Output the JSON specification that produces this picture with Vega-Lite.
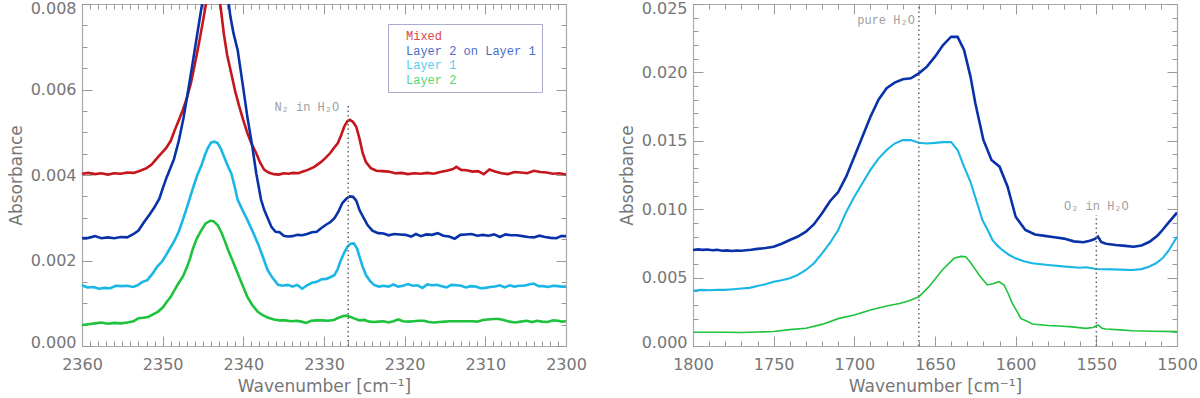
{
  "$schema": "https://vega.github.io/schema/vega-lite/v6.json",
  "background": "white",
  "padding": {"left": 7, "top": 0, "right": 0, "bottom": 2},
  "spacing": 31,
  "config": {
    "view": {"stroke": null},
    "axis": {
      "grid": false,
      "domainColor": "#aaaaaa",
      "domainWidth": 1.2,
      "tickColor": "#999999",
      "tickWidth": 1,
      "labelFont": "DejaVu Sans",
      "labelFontSize": 16,
      "labelColor": "#767676",
      "labelFlush": false,
      "labelOverlap": false,
      "titleFont": "DejaVu Sans",
      "titleFontSize": 17,
      "titleFontWeight": "normal",
      "titleColor": "#767676"
    }
  },
  "resolve": {"scale": {"color": "independent", "strokeWidth": "independent"}},
  "datasets": {
    "left": [
      {"s":"Mixed","x":2360,"y":0.00403},{"s":"Mixed","x":2359.2,"y":0.00405},{"s":"Mixed","x":2358.4,"y":0.00402},{"s":"Mixed","x":2357.6,"y":0.00404},{"s":"Mixed","x":2356.8,"y":0.00401},{"s":"Mixed","x":2356,"y":0.00404},{"s":"Mixed","x":2355.2,"y":0.00403},{"s":"Mixed","x":2354.4,"y":0.00406},{"s":"Mixed","x":2353.6,"y":0.00405},{"s":"Mixed","x":2352.8,"y":0.0041},{"s":"Mixed","x":2352,"y":0.00416},{"s":"Mixed","x":2351.4,"y":0.00424},{"s":"Mixed","x":2350.8,"y":0.00437},{"s":"Mixed","x":2350.2,"y":0.0045},{"s":"Mixed","x":2349.6,"y":0.00462},{"s":"Mixed","x":2349,"y":0.0048},{"s":"Mixed","x":2348.5,"y":0.00505},{"s":"Mixed","x":2348,"y":0.00528},{"s":"Mixed","x":2347.5,"y":0.00552},{"s":"Mixed","x":2347,"y":0.0058},{"s":"Mixed","x":2346.5,"y":0.00615},{"s":"Mixed","x":2346,"y":0.0066},{"s":"Mixed","x":2345.5,"y":0.00708},{"s":"Mixed","x":2345,"y":0.0076},{"s":"Mixed","x":2344.5,"y":0.00815},{"s":"Mixed","x":2344,"y":0.0086},{"s":"Mixed","x":2343.6,"y":0.0087},{"s":"Mixed","x":2343.2,"y":0.00845},{"s":"Mixed","x":2342.8,"y":0.0079},{"s":"Mixed","x":2342.4,"y":0.00728},{"s":"Mixed","x":2342,"y":0.0068},{"s":"Mixed","x":2341.5,"y":0.00638},{"s":"Mixed","x":2341,"y":0.00595},{"s":"Mixed","x":2340.5,"y":0.0056},{"s":"Mixed","x":2340,"y":0.00528},{"s":"Mixed","x":2339.5,"y":0.00498},{"s":"Mixed","x":2339,"y":0.00474},{"s":"Mixed","x":2338.4,"y":0.00451},{"s":"Mixed","x":2337.9,"y":0.00428},{"s":"Mixed","x":2337.4,"y":0.00412},{"s":"Mixed","x":2336.8,"y":0.00405},{"s":"Mixed","x":2336.2,"y":0.00402},{"s":"Mixed","x":2335.6,"y":0.00401},{"s":"Mixed","x":2335,"y":0.00404},{"s":"Mixed","x":2334.4,"y":0.00403},{"s":"Mixed","x":2333.8,"y":0.00405},{"s":"Mixed","x":2333.2,"y":0.00404},{"s":"Mixed","x":2332.6,"y":0.00408},{"s":"Mixed","x":2332,"y":0.00412},{"s":"Mixed","x":2331.2,"y":0.00419},{"s":"Mixed","x":2330.4,"y":0.0043},{"s":"Mixed","x":2329.8,"y":0.0044},{"s":"Mixed","x":2329.2,"y":0.00452},{"s":"Mixed","x":2328.7,"y":0.00465},{"s":"Mixed","x":2328.3,"y":0.00474},{"s":"Mixed","x":2327.9,"y":0.00492},{"s":"Mixed","x":2327.5,"y":0.00513},{"s":"Mixed","x":2327.1,"y":0.00526},{"s":"Mixed","x":2326.8,"y":0.00529},{"s":"Mixed","x":2326.4,"y":0.00524},{"s":"Mixed","x":2326,"y":0.00513},{"s":"Mixed","x":2325.6,"y":0.00485},{"s":"Mixed","x":2325.2,"y":0.00451},{"s":"Mixed","x":2324.8,"y":0.0043},{"s":"Mixed","x":2324.2,"y":0.00416},{"s":"Mixed","x":2323.5,"y":0.0041},{"s":"Mixed","x":2322.8,"y":0.00409},{"s":"Mixed","x":2322,"y":0.00408},{"s":"Mixed","x":2321.2,"y":0.00404},{"s":"Mixed","x":2320.4,"y":0.00405},{"s":"Mixed","x":2319.6,"y":0.00402},{"s":"Mixed","x":2318.8,"y":0.00404},{"s":"Mixed","x":2318,"y":0.00403},{"s":"Mixed","x":2317.2,"y":0.00405},{"s":"Mixed","x":2316.4,"y":0.00403},{"s":"Mixed","x":2315.6,"y":0.00407},{"s":"Mixed","x":2314.8,"y":0.0041},{"s":"Mixed","x":2314,"y":0.00414},{"s":"Mixed","x":2313.6,"y":0.00419},{"s":"Mixed","x":2313,"y":0.00412},{"s":"Mixed","x":2312.3,"y":0.00411},{"s":"Mixed","x":2311.6,"y":0.00408},{"s":"Mixed","x":2310.9,"y":0.00409},{"s":"Mixed","x":2310.2,"y":0.00402},{"s":"Mixed","x":2309.5,"y":0.00413},{"s":"Mixed","x":2308.8,"y":0.00408},{"s":"Mixed","x":2308,"y":0.00404},{"s":"Mixed","x":2307.2,"y":0.00402},{"s":"Mixed","x":2306.4,"y":0.00407},{"s":"Mixed","x":2305.6,"y":0.00406},{"s":"Mixed","x":2304.8,"y":0.00404},{"s":"Mixed","x":2304,"y":0.0041},{"s":"Mixed","x":2303.2,"y":0.00407},{"s":"Mixed","x":2302.4,"y":0.00406},{"s":"Mixed","x":2301.6,"y":0.00403},{"s":"Mixed","x":2300.8,"y":0.00404},{"s":"Mixed","x":2300,"y":0.00401},
      {"s":"Layer 2 on Layer 1","x":2360,"y":0.00252},{"s":"Layer 2 on Layer 1","x":2359.2,"y":0.00253},{"s":"Layer 2 on Layer 1","x":2358.4,"y":0.00257},{"s":"Layer 2 on Layer 1","x":2357.6,"y":0.00252},{"s":"Layer 2 on Layer 1","x":2356.8,"y":0.00254},{"s":"Layer 2 on Layer 1","x":2356,"y":0.00252},{"s":"Layer 2 on Layer 1","x":2355.2,"y":0.00255},{"s":"Layer 2 on Layer 1","x":2354.4,"y":0.00254},{"s":"Layer 2 on Layer 1","x":2353.6,"y":0.00262},{"s":"Layer 2 on Layer 1","x":2353,"y":0.0027},{"s":"Layer 2 on Layer 1","x":2352.3,"y":0.0029},{"s":"Layer 2 on Layer 1","x":2351.6,"y":0.00308},{"s":"Layer 2 on Layer 1","x":2351,"y":0.00325},{"s":"Layer 2 on Layer 1","x":2350.4,"y":0.00345},{"s":"Layer 2 on Layer 1","x":2350,"y":0.00368},{"s":"Layer 2 on Layer 1","x":2349.5,"y":0.00395},{"s":"Layer 2 on Layer 1","x":2349,"y":0.00418},{"s":"Layer 2 on Layer 1","x":2348.6,"y":0.00437},{"s":"Layer 2 on Layer 1","x":2348,"y":0.0048},{"s":"Layer 2 on Layer 1","x":2347.4,"y":0.00535},{"s":"Layer 2 on Layer 1","x":2346.9,"y":0.00591},{"s":"Layer 2 on Layer 1","x":2346.3,"y":0.0066},{"s":"Layer 2 on Layer 1","x":2345.7,"y":0.00731},{"s":"Layer 2 on Layer 1","x":2345.2,"y":0.0079},{"s":"Layer 2 on Layer 1","x":2344.7,"y":0.0085},{"s":"Layer 2 on Layer 1","x":2344.2,"y":0.0092},{"s":"Layer 2 on Layer 1","x":2343.6,"y":0.0098},{"s":"Layer 2 on Layer 1","x":2343,"y":0.01},{"s":"Layer 2 on Layer 1","x":2342.5,"y":0.0096},{"s":"Layer 2 on Layer 1","x":2342,"y":0.0083},{"s":"Layer 2 on Layer 1","x":2341.6,"y":0.0077},{"s":"Layer 2 on Layer 1","x":2341.2,"y":0.0073},{"s":"Layer 2 on Layer 1","x":2340.7,"y":0.00692},{"s":"Layer 2 on Layer 1","x":2340.1,"y":0.00615},{"s":"Layer 2 on Layer 1","x":2339.5,"y":0.00536},{"s":"Layer 2 on Layer 1","x":2338.9,"y":0.00468},{"s":"Layer 2 on Layer 1","x":2338.4,"y":0.00404},{"s":"Layer 2 on Layer 1","x":2337.8,"y":0.00342},{"s":"Layer 2 on Layer 1","x":2337.4,"y":0.00318},{"s":"Layer 2 on Layer 1","x":2337,"y":0.003},{"s":"Layer 2 on Layer 1","x":2336.5,"y":0.00278},{"s":"Layer 2 on Layer 1","x":2336,"y":0.00267},{"s":"Layer 2 on Layer 1","x":2335.5,"y":0.00266},{"s":"Layer 2 on Layer 1","x":2335,"y":0.00258},{"s":"Layer 2 on Layer 1","x":2334.5,"y":0.00256},{"s":"Layer 2 on Layer 1","x":2333.9,"y":0.00257},{"s":"Layer 2 on Layer 1","x":2333.3,"y":0.0026},{"s":"Layer 2 on Layer 1","x":2332.7,"y":0.00259},{"s":"Layer 2 on Layer 1","x":2332.1,"y":0.00262},{"s":"Layer 2 on Layer 1","x":2331.5,"y":0.00266},{"s":"Layer 2 on Layer 1","x":2330.9,"y":0.00267},{"s":"Layer 2 on Layer 1","x":2330.4,"y":0.00275},{"s":"Layer 2 on Layer 1","x":2329.8,"y":0.00283},{"s":"Layer 2 on Layer 1","x":2329.2,"y":0.0029},{"s":"Layer 2 on Layer 1","x":2328.7,"y":0.00299},{"s":"Layer 2 on Layer 1","x":2328.2,"y":0.00315},{"s":"Layer 2 on Layer 1","x":2327.7,"y":0.00335},{"s":"Layer 2 on Layer 1","x":2327.2,"y":0.00345},{"s":"Layer 2 on Layer 1","x":2326.8,"y":0.0035},{"s":"Layer 2 on Layer 1","x":2326.4,"y":0.00349},{"s":"Layer 2 on Layer 1","x":2326,"y":0.0034},{"s":"Layer 2 on Layer 1","x":2325.6,"y":0.00318},{"s":"Layer 2 on Layer 1","x":2325.1,"y":0.003},{"s":"Layer 2 on Layer 1","x":2324.6,"y":0.00283},{"s":"Layer 2 on Layer 1","x":2324,"y":0.0027},{"s":"Layer 2 on Layer 1","x":2323.3,"y":0.00264},{"s":"Layer 2 on Layer 1","x":2322.6,"y":0.00263},{"s":"Layer 2 on Layer 1","x":2322,"y":0.00259},{"s":"Layer 2 on Layer 1","x":2321.3,"y":0.00262},{"s":"Layer 2 on Layer 1","x":2320.6,"y":0.00261},{"s":"Layer 2 on Layer 1","x":2319.9,"y":0.0026},{"s":"Layer 2 on Layer 1","x":2319.2,"y":0.00256},{"s":"Layer 2 on Layer 1","x":2318.6,"y":0.00262},{"s":"Layer 2 on Layer 1","x":2318,"y":0.00257},{"s":"Layer 2 on Layer 1","x":2317.3,"y":0.00261},{"s":"Layer 2 on Layer 1","x":2316.6,"y":0.0026},{"s":"Layer 2 on Layer 1","x":2315.9,"y":0.00264},{"s":"Layer 2 on Layer 1","x":2315.2,"y":0.00258},{"s":"Layer 2 on Layer 1","x":2314.5,"y":0.00256},{"s":"Layer 2 on Layer 1","x":2313.8,"y":0.00251},{"s":"Layer 2 on Layer 1","x":2313.1,"y":0.0026},{"s":"Layer 2 on Layer 1","x":2312.4,"y":0.00261},{"s":"Layer 2 on Layer 1","x":2311.7,"y":0.00262},{"s":"Layer 2 on Layer 1","x":2311,"y":0.00258},{"s":"Layer 2 on Layer 1","x":2310.3,"y":0.0026},{"s":"Layer 2 on Layer 1","x":2309.6,"y":0.00258},{"s":"Layer 2 on Layer 1","x":2308.9,"y":0.00261},{"s":"Layer 2 on Layer 1","x":2308.2,"y":0.00255},{"s":"Layer 2 on Layer 1","x":2307.5,"y":0.00261},{"s":"Layer 2 on Layer 1","x":2306.8,"y":0.00259},{"s":"Layer 2 on Layer 1","x":2306.1,"y":0.00259},{"s":"Layer 2 on Layer 1","x":2305.4,"y":0.00257},{"s":"Layer 2 on Layer 1","x":2304.7,"y":0.00255},{"s":"Layer 2 on Layer 1","x":2304,"y":0.00254},{"s":"Layer 2 on Layer 1","x":2303.3,"y":0.00258},{"s":"Layer 2 on Layer 1","x":2302.6,"y":0.00255},{"s":"Layer 2 on Layer 1","x":2301.9,"y":0.00253},{"s":"Layer 2 on Layer 1","x":2301.2,"y":0.00252},{"s":"Layer 2 on Layer 1","x":2300.6,"y":0.00257},{"s":"Layer 2 on Layer 1","x":2300,"y":0.00257},
      {"s":"Layer 1","x":2360,"y":0.00142},{"s":"Layer 1","x":2359.3,"y":0.00137},{"s":"Layer 1","x":2358.6,"y":0.00138},{"s":"Layer 1","x":2357.9,"y":0.00134},{"s":"Layer 1","x":2357.2,"y":0.00136},{"s":"Layer 1","x":2356.5,"y":0.00135},{"s":"Layer 1","x":2355.8,"y":0.00141},{"s":"Layer 1","x":2355.1,"y":0.0014},{"s":"Layer 1","x":2354.4,"y":0.00141},{"s":"Layer 1","x":2353.7,"y":0.00138},{"s":"Layer 1","x":2353.1,"y":0.00142},{"s":"Layer 1","x":2352.5,"y":0.0015},{"s":"Layer 1","x":2351.9,"y":0.00154},{"s":"Layer 1","x":2351.3,"y":0.00168},{"s":"Layer 1","x":2350.7,"y":0.00185},{"s":"Layer 1","x":2350.1,"y":0.00197},{"s":"Layer 1","x":2349.6,"y":0.00212},{"s":"Layer 1","x":2349.1,"y":0.00228},{"s":"Layer 1","x":2348.6,"y":0.00244},{"s":"Layer 1","x":2348,"y":0.00268},{"s":"Layer 1","x":2347.5,"y":0.00295},{"s":"Layer 1","x":2347.1,"y":0.00318},{"s":"Layer 1","x":2346.7,"y":0.00342},{"s":"Layer 1","x":2346.2,"y":0.00372},{"s":"Layer 1","x":2345.7,"y":0.004},{"s":"Layer 1","x":2345.2,"y":0.00422},{"s":"Layer 1","x":2344.8,"y":0.00445},{"s":"Layer 1","x":2344.4,"y":0.00463},{"s":"Layer 1","x":2344,"y":0.00476},{"s":"Layer 1","x":2343.6,"y":0.00478},{"s":"Layer 1","x":2343.2,"y":0.00475},{"s":"Layer 1","x":2342.8,"y":0.00462},{"s":"Layer 1","x":2342.4,"y":0.00443},{"s":"Layer 1","x":2341.9,"y":0.0042},{"s":"Layer 1","x":2341.5,"y":0.00404},{"s":"Layer 1","x":2341.1,"y":0.00375},{"s":"Layer 1","x":2340.7,"y":0.00342},{"s":"Layer 1","x":2340.1,"y":0.00318},{"s":"Layer 1","x":2339.5,"y":0.00295},{"s":"Layer 1","x":2338.8,"y":0.00266},{"s":"Layer 1","x":2338.2,"y":0.0024},{"s":"Layer 1","x":2337.6,"y":0.0021},{"s":"Layer 1","x":2337,"y":0.00178},{"s":"Layer 1","x":2336.4,"y":0.0016},{"s":"Layer 1","x":2335.7,"y":0.00143},{"s":"Layer 1","x":2335.1,"y":0.00141},{"s":"Layer 1","x":2334.5,"y":0.00143},{"s":"Layer 1","x":2333.9,"y":0.00139},{"s":"Layer 1","x":2333.3,"y":0.00143},{"s":"Layer 1","x":2332.7,"y":0.00134},{"s":"Layer 1","x":2332.1,"y":0.00142},{"s":"Layer 1","x":2331.5,"y":0.00148},{"s":"Layer 1","x":2330.9,"y":0.0015},{"s":"Layer 1","x":2330.3,"y":0.00156},{"s":"Layer 1","x":2329.7,"y":0.00157},{"s":"Layer 1","x":2329.1,"y":0.00162},{"s":"Layer 1","x":2328.7,"y":0.00166},{"s":"Layer 1","x":2328.3,"y":0.0018},{"s":"Layer 1","x":2327.9,"y":0.00201},{"s":"Layer 1","x":2327.5,"y":0.00218},{"s":"Layer 1","x":2327.1,"y":0.00232},{"s":"Layer 1","x":2326.7,"y":0.00239},{"s":"Layer 1","x":2326.3,"y":0.0024},{"s":"Layer 1","x":2325.9,"y":0.00228},{"s":"Layer 1","x":2325.6,"y":0.00209},{"s":"Layer 1","x":2325.2,"y":0.00185},{"s":"Layer 1","x":2324.8,"y":0.00166},{"s":"Layer 1","x":2324.3,"y":0.00152},{"s":"Layer 1","x":2323.8,"y":0.00143},{"s":"Layer 1","x":2323.2,"y":0.00139},{"s":"Layer 1","x":2322.6,"y":0.00141},{"s":"Layer 1","x":2322,"y":0.00139},{"s":"Layer 1","x":2321.4,"y":0.00144},{"s":"Layer 1","x":2320.8,"y":0.00139},{"s":"Layer 1","x":2320.2,"y":0.00141},{"s":"Layer 1","x":2319.6,"y":0.00145},{"s":"Layer 1","x":2319,"y":0.00141},{"s":"Layer 1","x":2318.4,"y":0.00142},{"s":"Layer 1","x":2317.8,"y":0.00136},{"s":"Layer 1","x":2317.2,"y":0.00144},{"s":"Layer 1","x":2316.6,"y":0.00142},{"s":"Layer 1","x":2316,"y":0.00143},{"s":"Layer 1","x":2315.4,"y":0.0014},{"s":"Layer 1","x":2314.8,"y":0.00137},{"s":"Layer 1","x":2314.2,"y":0.00143},{"s":"Layer 1","x":2313.6,"y":0.00142},{"s":"Layer 1","x":2313,"y":0.00141},{"s":"Layer 1","x":2312.4,"y":0.00137},{"s":"Layer 1","x":2311.8,"y":0.0014},{"s":"Layer 1","x":2311.2,"y":0.00139},{"s":"Layer 1","x":2310.6,"y":0.00135},{"s":"Layer 1","x":2310,"y":0.00136},{"s":"Layer 1","x":2309.4,"y":0.00138},{"s":"Layer 1","x":2308.8,"y":0.00139},{"s":"Layer 1","x":2308.2,"y":0.00142},{"s":"Layer 1","x":2307.6,"y":0.00137},{"s":"Layer 1","x":2307,"y":0.00142},{"s":"Layer 1","x":2306.4,"y":0.00139},{"s":"Layer 1","x":2305.8,"y":0.00141},{"s":"Layer 1","x":2305.2,"y":0.00141},{"s":"Layer 1","x":2304.6,"y":0.00144},{"s":"Layer 1","x":2304,"y":0.00146},{"s":"Layer 1","x":2303.4,"y":0.0014},{"s":"Layer 1","x":2302.8,"y":0.0014},{"s":"Layer 1","x":2302.2,"y":0.00138},{"s":"Layer 1","x":2301.6,"y":0.00141},{"s":"Layer 1","x":2301,"y":0.0014},{"s":"Layer 1","x":2300.5,"y":0.00139},{"s":"Layer 1","x":2300,"y":0.00139},
      {"s":"Layer 2","x":2360,"y":0.00049},{"s":"Layer 2","x":2359.2,"y":0.00051},{"s":"Layer 2","x":2358.4,"y":0.00053},{"s":"Layer 2","x":2357.6,"y":0.00055},{"s":"Layer 2","x":2356.8,"y":0.00052},{"s":"Layer 2","x":2356,"y":0.00054},{"s":"Layer 2","x":2355.2,"y":0.00053},{"s":"Layer 2","x":2354.4,"y":0.00055},{"s":"Layer 2","x":2353.6,"y":0.00058},{"s":"Layer 2","x":2353,"y":0.00065},{"s":"Layer 2","x":2352.4,"y":0.00066},{"s":"Layer 2","x":2351.8,"y":0.00068},{"s":"Layer 2","x":2351.2,"y":0.00074},{"s":"Layer 2","x":2350.6,"y":0.0008},{"s":"Layer 2","x":2350,"y":0.0009},{"s":"Layer 2","x":2349.5,"y":0.00103},{"s":"Layer 2","x":2349,"y":0.00115},{"s":"Layer 2","x":2348.5,"y":0.00132},{"s":"Layer 2","x":2348,"y":0.00148},{"s":"Layer 2","x":2347.5,"y":0.00162},{"s":"Layer 2","x":2347,"y":0.00184},{"s":"Layer 2","x":2346.6,"y":0.00205},{"s":"Layer 2","x":2346.3,"y":0.00225},{"s":"Layer 2","x":2345.8,"y":0.0025},{"s":"Layer 2","x":2345.2,"y":0.00271},{"s":"Layer 2","x":2344.7,"y":0.00286},{"s":"Layer 2","x":2344.1,"y":0.00293},{"s":"Layer 2","x":2343.7,"y":0.00292},{"s":"Layer 2","x":2343.2,"y":0.00283},{"s":"Layer 2","x":2342.7,"y":0.00265},{"s":"Layer 2","x":2342.3,"y":0.00246},{"s":"Layer 2","x":2341.9,"y":0.00225},{"s":"Layer 2","x":2341.3,"y":0.00198},{"s":"Layer 2","x":2340.7,"y":0.0017},{"s":"Layer 2","x":2340.1,"y":0.00142},{"s":"Layer 2","x":2339.5,"y":0.00115},{"s":"Layer 2","x":2338.9,"y":0.00096},{"s":"Layer 2","x":2338.2,"y":0.0008},{"s":"Layer 2","x":2337.6,"y":0.00072},{"s":"Layer 2","x":2336.9,"y":0.00066},{"s":"Layer 2","x":2336.2,"y":0.00062},{"s":"Layer 2","x":2335.5,"y":0.0006},{"s":"Layer 2","x":2334.8,"y":0.0006},{"s":"Layer 2","x":2334.1,"y":0.00058},{"s":"Layer 2","x":2333.4,"y":0.00059},{"s":"Layer 2","x":2332.8,"y":0.00057},{"s":"Layer 2","x":2332.2,"y":0.00054},{"s":"Layer 2","x":2331.6,"y":0.00059},{"s":"Layer 2","x":2330.9,"y":0.0006},{"s":"Layer 2","x":2330.2,"y":0.0006},{"s":"Layer 2","x":2329.5,"y":0.00059},{"s":"Layer 2","x":2328.8,"y":0.00061},{"s":"Layer 2","x":2328.2,"y":0.00066},{"s":"Layer 2","x":2327.6,"y":0.0007},{"s":"Layer 2","x":2327.2,"y":0.00071},{"s":"Layer 2","x":2326.7,"y":0.00068},{"s":"Layer 2","x":2326.2,"y":0.00064},{"s":"Layer 2","x":2325.6,"y":0.0006},{"s":"Layer 2","x":2325,"y":0.00061},{"s":"Layer 2","x":2324.4,"y":0.00057},{"s":"Layer 2","x":2323.8,"y":0.00056},{"s":"Layer 2","x":2323.2,"y":0.00057},{"s":"Layer 2","x":2322.6,"y":0.00058},{"s":"Layer 2","x":2322,"y":0.00055},{"s":"Layer 2","x":2321.4,"y":0.00058},{"s":"Layer 2","x":2320.8,"y":0.00062},{"s":"Layer 2","x":2320.2,"y":0.00058},{"s":"Layer 2","x":2319.5,"y":0.00057},{"s":"Layer 2","x":2318.9,"y":0.00058},{"s":"Layer 2","x":2318.2,"y":0.00059},{"s":"Layer 2","x":2317.6,"y":0.00059},{"s":"Layer 2","x":2317,"y":0.00056},{"s":"Layer 2","x":2316.4,"y":0.00055},{"s":"Layer 2","x":2315.7,"y":0.00056},{"s":"Layer 2","x":2315,"y":0.00057},{"s":"Layer 2","x":2314.4,"y":0.00058},{"s":"Layer 2","x":2313.7,"y":0.00058},{"s":"Layer 2","x":2313,"y":0.00058},{"s":"Layer 2","x":2312.4,"y":0.00058},{"s":"Layer 2","x":2311.7,"y":0.00058},{"s":"Layer 2","x":2311,"y":0.00057},{"s":"Layer 2","x":2310.3,"y":0.00061},{"s":"Layer 2","x":2309.7,"y":0.00062},{"s":"Layer 2","x":2309,"y":0.00063},{"s":"Layer 2","x":2308.3,"y":0.00063},{"s":"Layer 2","x":2307.6,"y":0.0006},{"s":"Layer 2","x":2307,"y":0.00057},{"s":"Layer 2","x":2306.3,"y":0.00055},{"s":"Layer 2","x":2305.6,"y":0.00057},{"s":"Layer 2","x":2304.9,"y":0.00059},{"s":"Layer 2","x":2304.2,"y":0.00056},{"s":"Layer 2","x":2303.6,"y":0.00059},{"s":"Layer 2","x":2303,"y":0.00057},{"s":"Layer 2","x":2302.3,"y":0.00056},{"s":"Layer 2","x":2301.6,"y":0.0006},{"s":"Layer 2","x":2301,"y":0.00059},{"s":"Layer 2","x":2300.5,"y":0.00057},{"s":"Layer 2","x":2300,"y":0.00058}
    ],
    "right": [
      {"s":"Layer 2 on Layer 1","x":1800,"y":0.00702},{"s":"Layer 2 on Layer 1","x":1797,"y":0.00706},{"s":"Layer 2 on Layer 1","x":1794,"y":0.00703},{"s":"Layer 2 on Layer 1","x":1791,"y":0.00705},{"s":"Layer 2 on Layer 1","x":1788,"y":0.007},{"s":"Layer 2 on Layer 1","x":1785,"y":0.00703},{"s":"Layer 2 on Layer 1","x":1782,"y":0.00696},{"s":"Layer 2 on Layer 1","x":1779,"y":0.00699},{"s":"Layer 2 on Layer 1","x":1776,"y":0.00695},{"s":"Layer 2 on Layer 1","x":1773,"y":0.00698},{"s":"Layer 2 on Layer 1","x":1770,"y":0.00696},{"s":"Layer 2 on Layer 1","x":1767,"y":0.007},{"s":"Layer 2 on Layer 1","x":1764,"y":0.00703},{"s":"Layer 2 on Layer 1","x":1760,"y":0.0071},{"s":"Layer 2 on Layer 1","x":1755,"y":0.00716},{"s":"Layer 2 on Layer 1","x":1750,"y":0.00726},{"s":"Layer 2 on Layer 1","x":1745,"y":0.00748},{"s":"Layer 2 on Layer 1","x":1740,"y":0.00775},{"s":"Layer 2 on Layer 1","x":1735,"y":0.008},{"s":"Layer 2 on Layer 1","x":1730,"y":0.00836},{"s":"Layer 2 on Layer 1","x":1725,"y":0.0089},{"s":"Layer 2 on Layer 1","x":1720,"y":0.0097},{"s":"Layer 2 on Layer 1","x":1715,"y":0.0106},{"s":"Layer 2 on Layer 1","x":1710,"y":0.01125},{"s":"Layer 2 on Layer 1","x":1705,"y":0.0124},{"s":"Layer 2 on Layer 1","x":1700,"y":0.01384},{"s":"Layer 2 on Layer 1","x":1695,"y":0.0153},{"s":"Layer 2 on Layer 1","x":1690,"y":0.01676},{"s":"Layer 2 on Layer 1","x":1685,"y":0.018},{"s":"Layer 2 on Layer 1","x":1680,"y":0.01884},{"s":"Layer 2 on Layer 1","x":1675,"y":0.01925},{"s":"Layer 2 on Layer 1","x":1670,"y":0.0195},{"s":"Layer 2 on Layer 1","x":1665,"y":0.01957},{"s":"Layer 2 on Layer 1","x":1660,"y":0.01993},{"s":"Layer 2 on Layer 1","x":1655,"y":0.02042},{"s":"Layer 2 on Layer 1","x":1650,"y":0.02115},{"s":"Layer 2 on Layer 1","x":1645,"y":0.022},{"s":"Layer 2 on Layer 1","x":1640,"y":0.02261},{"s":"Layer 2 on Layer 1","x":1636,"y":0.0226},{"s":"Layer 2 on Layer 1","x":1632,"y":0.02164},{"s":"Layer 2 on Layer 1","x":1628,"y":0.01969},{"s":"Layer 2 on Layer 1","x":1625,"y":0.01774},{"s":"Layer 2 on Layer 1","x":1620,"y":0.01506},{"s":"Layer 2 on Layer 1","x":1615,"y":0.0136},{"s":"Layer 2 on Layer 1","x":1610,"y":0.01311},{"s":"Layer 2 on Layer 1","x":1605,"y":0.01164},{"s":"Layer 2 on Layer 1","x":1600,"y":0.00945},{"s":"Layer 2 on Layer 1","x":1594,"y":0.00848},{"s":"Layer 2 on Layer 1","x":1588,"y":0.00815},{"s":"Layer 2 on Layer 1","x":1582,"y":0.00805},{"s":"Layer 2 on Layer 1","x":1576,"y":0.00795},{"s":"Layer 2 on Layer 1","x":1570,"y":0.00785},{"s":"Layer 2 on Layer 1","x":1564,"y":0.00765},{"s":"Layer 2 on Layer 1","x":1558,"y":0.00758},{"s":"Layer 2 on Layer 1","x":1554,"y":0.0077},{"s":"Layer 2 on Layer 1","x":1551,"y":0.00782},{"s":"Layer 2 on Layer 1","x":1549,"y":0.008},{"s":"Layer 2 on Layer 1","x":1547,"y":0.0076},{"s":"Layer 2 on Layer 1","x":1544,"y":0.00748},{"s":"Layer 2 on Layer 1","x":1538,"y":0.00738},{"s":"Layer 2 on Layer 1","x":1532,"y":0.00732},{"s":"Layer 2 on Layer 1","x":1527,"y":0.00726},{"s":"Layer 2 on Layer 1","x":1522,"y":0.00735},{"s":"Layer 2 on Layer 1","x":1517,"y":0.00762},{"s":"Layer 2 on Layer 1","x":1512,"y":0.00808},{"s":"Layer 2 on Layer 1","x":1509,"y":0.00848},{"s":"Layer 2 on Layer 1","x":1505,"y":0.00905},{"s":"Layer 2 on Layer 1","x":1500,"y":0.00975},
      {"s":"Layer 1","x":1800,"y":0.00404},{"s":"Layer 1","x":1795,"y":0.0041},{"s":"Layer 1","x":1790,"y":0.00408},{"s":"Layer 1","x":1785,"y":0.0041},{"s":"Layer 1","x":1780,"y":0.0041},{"s":"Layer 1","x":1775,"y":0.00415},{"s":"Layer 1","x":1770,"y":0.0042},{"s":"Layer 1","x":1765,"y":0.00425},{"s":"Layer 1","x":1760,"y":0.00439},{"s":"Layer 1","x":1755,"y":0.00452},{"s":"Layer 1","x":1750,"y":0.0047},{"s":"Layer 1","x":1745,"y":0.0048},{"s":"Layer 1","x":1740,"y":0.00495},{"s":"Layer 1","x":1735,"y":0.0052},{"s":"Layer 1","x":1730,"y":0.00556},{"s":"Layer 1","x":1725,"y":0.00605},{"s":"Layer 1","x":1720,"y":0.00677},{"s":"Layer 1","x":1715,"y":0.00755},{"s":"Layer 1","x":1710,"y":0.00848},{"s":"Layer 1","x":1705,"y":0.0098},{"s":"Layer 1","x":1700,"y":0.01091},{"s":"Layer 1","x":1695,"y":0.0119},{"s":"Layer 1","x":1690,"y":0.01287},{"s":"Layer 1","x":1685,"y":0.0137},{"s":"Layer 1","x":1680,"y":0.01433},{"s":"Layer 1","x":1675,"y":0.0148},{"s":"Layer 1","x":1670,"y":0.01505},{"s":"Layer 1","x":1665,"y":0.01506},{"s":"Layer 1","x":1660,"y":0.01486},{"s":"Layer 1","x":1655,"y":0.0148},{"s":"Layer 1","x":1650,"y":0.01485},{"s":"Layer 1","x":1645,"y":0.0149},{"s":"Layer 1","x":1640,"y":0.0149},{"s":"Layer 1","x":1636,"y":0.01433},{"s":"Layer 1","x":1632,"y":0.01311},{"s":"Layer 1","x":1628,"y":0.012},{"s":"Layer 1","x":1624.5,"y":0.01067},{"s":"Layer 1","x":1620.6,"y":0.00921},{"s":"Layer 1","x":1617,"y":0.0084},{"s":"Layer 1","x":1614.4,"y":0.00775},{"s":"Layer 1","x":1611,"y":0.0073},{"s":"Layer 1","x":1608.3,"y":0.00702},{"s":"Layer 1","x":1604,"y":0.00665},{"s":"Layer 1","x":1600,"y":0.00641},{"s":"Layer 1","x":1595,"y":0.0062},{"s":"Layer 1","x":1589.7,"y":0.00605},{"s":"Layer 1","x":1580,"y":0.00592},{"s":"Layer 1","x":1569,"y":0.0058},{"s":"Layer 1","x":1560,"y":0.00572},{"s":"Layer 1","x":1556,"y":0.00576},{"s":"Layer 1","x":1550.4,"y":0.00563},{"s":"Layer 1","x":1540,"y":0.0056},{"s":"Layer 1","x":1527.7,"y":0.00556},{"s":"Layer 1","x":1522,"y":0.00562},{"s":"Layer 1","x":1517.4,"y":0.0058},{"s":"Layer 1","x":1513,"y":0.00605},{"s":"Layer 1","x":1509,"y":0.00641},{"s":"Layer 1","x":1505,"y":0.007},{"s":"Layer 1","x":1500,"y":0.00799},
      {"s":"Layer 2","x":1800,"y":0.001},{"s":"Layer 2","x":1790,"y":0.00101},{"s":"Layer 2","x":1780,"y":0.001},{"s":"Layer 2","x":1770,"y":0.00099},{"s":"Layer 2","x":1760,"y":0.00102},{"s":"Layer 2","x":1750,"y":0.00106},{"s":"Layer 2","x":1740,"y":0.0012},{"s":"Layer 2","x":1730,"y":0.0013},{"s":"Layer 2","x":1720,"y":0.00158},{"s":"Layer 2","x":1710,"y":0.002},{"s":"Layer 2","x":1700,"y":0.00227},{"s":"Layer 2","x":1690,"y":0.00263},{"s":"Layer 2","x":1680,"y":0.00292},{"s":"Layer 2","x":1672,"y":0.0031},{"s":"Layer 2","x":1666,"y":0.0033},{"s":"Layer 2","x":1660,"y":0.0036},{"s":"Layer 2","x":1653.7,"y":0.00434},{"s":"Layer 2","x":1645.5,"y":0.00556},{"s":"Layer 2","x":1638.2,"y":0.00641},{"s":"Layer 2","x":1634,"y":0.00655},{"s":"Layer 2","x":1631,"y":0.00653},{"s":"Layer 2","x":1628,"y":0.0061},{"s":"Layer 2","x":1625,"y":0.0056},{"s":"Layer 2","x":1622.7,"y":0.00519},{"s":"Layer 2","x":1617.6,"y":0.00446},{"s":"Layer 2","x":1614,"y":0.00455},{"s":"Layer 2","x":1610.3,"y":0.0047},{"s":"Layer 2","x":1607.2,"y":0.00446},{"s":"Layer 2","x":1604.5,"y":0.0038},{"s":"Layer 2","x":1602.1,"y":0.00312},{"s":"Layer 2","x":1599,"y":0.0025},{"s":"Layer 2","x":1596.9,"y":0.00202},{"s":"Layer 2","x":1592,"y":0.00175},{"s":"Layer 2","x":1589.7,"y":0.00161},{"s":"Layer 2","x":1580,"y":0.0015},{"s":"Layer 2","x":1573,"y":0.00146},{"s":"Layer 2","x":1565,"y":0.0014},{"s":"Layer 2","x":1556.6,"y":0.00129},{"s":"Layer 2","x":1552,"y":0.00135},{"s":"Layer 2","x":1549,"y":0.00154},{"s":"Layer 2","x":1546.5,"y":0.0013},{"s":"Layer 2","x":1544.2,"y":0.00124},{"s":"Layer 2","x":1535,"y":0.00118},{"s":"Layer 2","x":1527.7,"y":0.00112},{"s":"Layer 2","x":1515,"y":0.00108},{"s":"Layer 2","x":1500,"y":0.00105}
    ],
    "leftAnno": [{"k":"n2","x":2327,"ybot":0,"ytop":0.00568,"ylab":0.00559,"label":"N₂ in H₂O"}],
    "rightAnno": [
      {"k":"pure","x":1660,"ybot":0,"ytop":0.025,"ylab":0.02383,"label":"pure H₂O"},
      {"k":"o2","x":1550,"ybot":0,"ytop":0.00958,"ylab":0.01023,"label":"O₂ in H₂O"}
    ]
  },
  "hconcat": [
    {
      "width": 484,
      "height": 342,
      "resolve": {"axis": {"x": "independent", "y": "independent"}},
      "layer": [
        {
          "data": {"name": "left"},
          "mark": {"type": "line", "clip": true, "interpolate": "linear"},
          "encoding": {
            "x": {"field": "x", "type": "quantitative", "scale": {"domain": [2300, 2360], "reverse": true, "nice": false, "zero": false},
              "axis": {"orient": "bottom", "values": [2360,2350,2340,2330,2320,2310,2300], "format": "d", "tickSize": -10, "labelPadding": 20, "title": "Wavenumber [cm⁻¹]", "titlePadding": 6}},
            "y": {"field": "y", "type": "quantitative", "scale": {"domain": [0, 0.008], "nice": false, "zero": false},
              "axis": {"orient": "left", "values": [0,0.002,0.004,0.006,0.008], "format": ".3f", "tickSize": -10, "labelPadding": 16, "labelFlush": true, "labelFlushOffset": 4, "title": "Absorbance", "titlePadding": 5}},
            "color": {"field": "s", "type": "nominal",
              "scale": {"domain": ["Mixed","Layer 2 on Layer 1","Layer 1","Layer 2"], "range": ["#c4161c","#0a32a8","#19b6e6","#1fc23c"]},
              "legend": {"orient": "none", "legendX": 306, "legendY": 20, "title": null, "symbolSize": 0, "symbolOpacity": 0, "symbolStrokeWidth": 0, "labelOffset": 0, "padding": 6, "rowPadding": 2.5, "labelFont": "Liberation Mono", "labelFontSize": 12, "strokeColor": "#aaaacc", "fillColor": "white",
                "labelColor": {"expr": "datum.value === 'Mixed' ? '#d9474a' : datum.value === 'Layer 2 on Layer 1' ? '#4a6cc8' : datum.value === 'Layer 1' ? '#55cdf0' : '#55d674'"}}},
            "strokeWidth": {"field": "s", "type": "nominal", "scale": {"domain": ["Mixed","Layer 2 on Layer 1","Layer 1","Layer 2"], "range": [2.6, 2.6, 1.6, 1.6]}, "legend": null},
            "order": {"field": "x", "type": "quantitative"}
          }
        },
        {
          "data": {"name": "leftAnno"},
          "mark": {"type": "rule", "color": "#666666", "strokeWidth": 1.5, "strokeDash": [1.5, 3]},
          "encoding": {
            "x": {"field": "x", "type": "quantitative", "scale": {"domain": [2300, 2360], "reverse": true, "nice": false, "zero": false},
              "axis": {"orient": "bottom", "values": [2300,2301,2302,2303,2304,2305,2306,2307,2308,2309,2310,2311,2312,2313,2314,2315,2316,2317,2318,2319,2320,2321,2322,2323,2324,2325,2326,2327,2328,2329,2330,2331,2332,2333,2334,2335,2336,2337,2338,2339,2340,2341,2342,2343,2344,2345,2346,2347,2348,2349,2350,2351,2352,2353,2354,2355,2356,2357,2358,2359,2360], "tickSize": -5, "labels": false, "domain": false, "title": null}},
            "y": {"field": "ybot", "type": "quantitative", "scale": {"domain": [0, 0.008], "nice": false, "zero": false},
              "axis": {"orient": "left", "values": [0,0.0005,0.001,0.0015,0.002,0.0025,0.003,0.0035,0.004,0.0045,0.005,0.0055,0.006,0.0065,0.007,0.0075,0.008], "tickSize": -5, "labels": false, "domain": false, "title": null}},
            "y2": {"field": "ytop"}
          }
        },
        {
          "data": {"name": "leftAnno"},
          "mark": {"type": "text", "align": "right", "baseline": "middle", "dx": -9, "font": "Liberation Mono", "fontSize": 12, "color": "#a0a0a0"},
          "encoding": {
            "x": {"field": "x", "type": "quantitative", "scale": {"domain": [2300, 2360], "reverse": true, "nice": false, "zero": false},
              "axis": {"orient": "top", "values": [2360,2350,2340,2330,2320,2310,2300], "tickSize": -10, "labels": false, "title": null}},
            "y": {"field": "ylab", "type": "quantitative", "scale": {"domain": [0, 0.008], "nice": false, "zero": false},
              "axis": {"orient": "right", "values": [0,0.002,0.004,0.006,0.008], "tickSize": -10, "labels": false, "title": null}},
            "text": {"field": "label", "type": "nominal"}
          }
        },
        {
          "data": {"name": "leftAnno"},
          "mark": {"type": "point", "opacity": 0},
          "encoding": {
            "x": {"field": "x", "type": "quantitative", "scale": {"domain": [2300, 2360], "reverse": true, "nice": false, "zero": false},
              "axis": {"orient": "top", "values": [2300,2301,2302,2303,2304,2305,2306,2307,2308,2309,2310,2311,2312,2313,2314,2315,2316,2317,2318,2319,2320,2321,2322,2323,2324,2325,2326,2327,2328,2329,2330,2331,2332,2333,2334,2335,2336,2337,2338,2339,2340,2341,2342,2343,2344,2345,2346,2347,2348,2349,2350,2351,2352,2353,2354,2355,2356,2357,2358,2359,2360], "tickSize": -5, "labels": false, "domain": false, "title": null}},
            "y": {"field": "ylab", "type": "quantitative", "scale": {"domain": [0, 0.008], "nice": false, "zero": false},
              "axis": {"orient": "right", "values": [0,0.0005,0.001,0.0015,0.002,0.0025,0.003,0.0035,0.004,0.0045,0.005,0.0055,0.006,0.0065,0.007,0.0075,0.008], "tickSize": -5, "labels": false, "domain": false, "title": null}}
          }
        }
      ]
    },
    {
      "width": 484,
      "height": 342,
      "resolve": {"axis": {"x": "independent", "y": "independent"}},
      "layer": [
        {
          "data": {"name": "right"},
          "mark": {"type": "line", "clip": true, "interpolate": "linear"},
          "encoding": {
            "x": {"field": "x", "type": "quantitative", "scale": {"domain": [1500, 1800], "reverse": true, "nice": false, "zero": false},
              "axis": {"orient": "bottom", "values": [1800,1750,1700,1650,1600,1550,1500], "format": "d", "tickSize": -10, "labelPadding": 20, "title": "Wavenumber [cm⁻¹]", "titlePadding": 6}},
            "y": {"field": "y", "type": "quantitative", "scale": {"domain": [0, 0.025], "nice": false, "zero": false},
              "axis": {"orient": "left", "values": [0,0.005,0.01,0.015,0.02,0.025], "format": ".3f", "tickSize": -10, "labelPadding": 16, "labelFlush": true, "labelFlushOffset": 4, "title": "Absorbance", "titlePadding": 5}},
            "color": {"field": "s", "type": "nominal",
              "scale": {"domain": ["Layer 2 on Layer 1","Layer 1","Layer 2"], "range": ["#0a32a8","#19b6e6","#1fc23c"]},
              "legend": null},
            "strokeWidth": {"field": "s", "type": "nominal", "scale": {"domain": ["Layer 2 on Layer 1","Layer 1","Layer 2"], "range": [2.6, 1.6, 1.6]}, "legend": null},
            "order": {"field": "x", "type": "quantitative"}
          }
        },
        {
          "data": {"name": "rightAnno"},
          "mark": {"type": "rule", "color": "#666666", "strokeWidth": 1.5, "strokeDash": [1.5, 3]},
          "encoding": {
            "x": {"field": "x", "type": "quantitative", "scale": {"domain": [1500, 1800], "reverse": true, "nice": false, "zero": false},
              "axis": {"orient": "bottom", "values": [1500,1510,1520,1530,1540,1550,1560,1570,1580,1590,1600,1610,1620,1630,1640,1650,1660,1670,1680,1690,1700,1710,1720,1730,1740,1750,1760,1770,1780,1790,1800], "tickSize": -5, "labels": false, "domain": false, "title": null}},
            "y": {"field": "ybot", "type": "quantitative", "scale": {"domain": [0, 0.025], "nice": false, "zero": false},
              "axis": {"orient": "left", "values": [0,0.001,0.002,0.003,0.004,0.005,0.006,0.007,0.008,0.009,0.01,0.011,0.012,0.013,0.014,0.015,0.016,0.017,0.018,0.019,0.02,0.021,0.022,0.023,0.024,0.025], "tickSize": -5, "labels": false, "domain": false, "title": null}},
            "y2": {"field": "ytop"}
          }
        },
        {
          "data": {"name": "rightAnno"},
          "transform": [{"filter": "datum.k === 'pure'"}],
          "mark": {"type": "text", "align": "right", "baseline": "middle", "dx": -4, "font": "Liberation Mono", "fontSize": 12, "color": "#a0a0a0"},
          "encoding": {
            "x": {"field": "x", "type": "quantitative", "scale": {"domain": [1500, 1800], "reverse": true, "nice": false, "zero": false},
              "axis": {"orient": "top", "values": [1800,1750,1700,1650,1600,1550,1500], "tickSize": -10, "labels": false, "title": null}},
            "y": {"field": "ylab", "type": "quantitative", "scale": {"domain": [0, 0.025], "nice": false, "zero": false},
              "axis": {"orient": "right", "values": [0,0.005,0.01,0.015,0.02,0.025], "tickSize": -10, "labels": false, "title": null}},
            "text": {"field": "label", "type": "nominal"}
          }
        },
        {
          "data": {"name": "rightAnno"},
          "transform": [{"filter": "datum.k === 'o2'"}],
          "mark": {"type": "text", "align": "center", "baseline": "middle", "font": "Liberation Mono", "fontSize": 12, "color": "#a0a0a0"},
          "encoding": {
            "x": {"field": "x", "type": "quantitative", "scale": {"domain": [1500, 1800], "reverse": true, "nice": false, "zero": false},
              "axis": {"orient": "top", "values": [1500,1510,1520,1530,1540,1550,1560,1570,1580,1590,1600,1610,1620,1630,1640,1650,1660,1670,1680,1690,1700,1710,1720,1730,1740,1750,1760,1770,1780,1790,1800], "tickSize": -5, "labels": false, "domain": false, "title": null}},
            "y": {"field": "ylab", "type": "quantitative", "scale": {"domain": [0, 0.025], "nice": false, "zero": false},
              "axis": {"orient": "right", "values": [0,0.001,0.002,0.003,0.004,0.005,0.006,0.007,0.008,0.009,0.01,0.011,0.012,0.013,0.014,0.015,0.016,0.017,0.018,0.019,0.02,0.021,0.022,0.023,0.024,0.025], "tickSize": -5, "labels": false, "domain": false, "title": null}},
            "text": {"field": "label", "type": "nominal"}
          }
        }
      ]
    }
  ]
}
